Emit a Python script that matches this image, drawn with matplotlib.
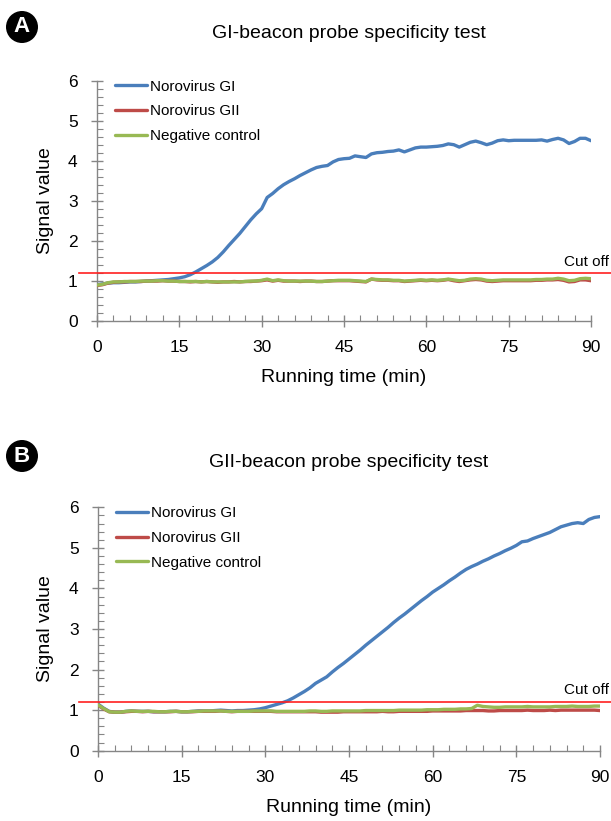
import matplotlib.pyplot as plt
import matplotlib.patches as mpatches
from matplotlib.ticker import MultipleLocator

plt.rcParams["font.family"] = ["Liberation Sans", "DejaVu Sans"]

# ── 데이터 (1분 간격, 0~90분) ──────────────────────────────────────────
time_min = list(range(0, 91))

a_gi = [0.90, 0.92, 0.94, 0.95, 0.95, 0.96, 0.97, 0.97, 0.98, 0.99,
        1.00, 1.01, 1.02, 1.03, 1.05, 1.07, 1.10, 1.15, 1.22, 1.30,
        1.38, 1.47, 1.58, 1.72, 1.88, 2.03, 2.18, 2.35, 2.52, 2.67,
        2.80, 3.08, 3.18, 3.30, 3.40, 3.48, 3.55, 3.63, 3.70, 3.77,
        3.83, 3.86, 3.88, 3.97, 4.03, 4.05, 4.06, 4.12, 4.10, 4.08,
        4.17, 4.20, 4.21, 4.23, 4.24, 4.27, 4.22, 4.27, 4.32, 4.34,
        4.34, 4.35, 4.36, 4.38, 4.42, 4.40, 4.34, 4.40, 4.46, 4.49,
        4.45, 4.40, 4.44, 4.50, 4.52, 4.50, 4.51, 4.51, 4.51, 4.51,
        4.51, 4.52, 4.49, 4.53, 4.56, 4.52, 4.43, 4.48, 4.56, 4.56,
        4.50]
a_gii = [0.88, 0.90, 0.94, 0.96, 0.97, 0.97, 0.98, 0.98, 0.98, 0.99,
         0.99, 0.99, 1.00, 0.99, 0.99, 0.98, 0.98, 0.97, 0.98, 0.97,
         0.98, 0.97, 0.96, 0.97, 0.97, 0.98, 0.97, 0.98, 0.98, 0.99,
         1.00, 1.02, 0.99, 1.01, 0.99, 0.99, 0.99, 0.98, 0.99, 0.99,
         0.98, 0.98, 0.99, 1.00, 1.00, 1.00, 1.00, 0.99, 0.98, 0.97,
         1.04, 1.02, 1.01, 1.01, 1.00, 1.00, 0.98, 0.99, 1.00, 1.01,
         1.00, 1.01, 1.00, 1.01, 1.03, 1.00, 0.98, 1.00, 1.02, 1.03,
         1.02, 0.99, 0.98, 0.99, 1.00, 1.00, 1.00, 1.00, 1.00, 1.00,
         1.01, 1.01, 1.02, 1.02, 1.03, 1.01, 0.97, 0.98, 1.02, 1.02,
         1.00]
a_neg = [0.89, 0.91, 0.95, 0.97, 0.97, 0.98, 0.98, 0.98, 0.99, 0.99,
         0.99, 1.00, 1.00, 0.99, 0.99, 0.98, 0.98, 0.98, 0.98, 0.97,
         0.98, 0.97, 0.97, 0.97, 0.97, 0.97, 0.97, 0.98, 0.99, 0.99,
         1.01, 1.04, 1.00, 1.02, 1.00, 0.99, 0.99, 0.99, 0.99, 0.99,
         0.98, 0.98, 0.99, 1.00, 1.01, 1.01, 1.01, 1.00, 0.99, 0.98,
         1.04, 1.03, 1.02, 1.02, 1.01, 1.01, 0.99, 1.00, 1.01, 1.02,
         1.01, 1.02, 1.01, 1.02, 1.04, 1.02, 1.00, 1.01, 1.04, 1.05,
         1.04, 1.01, 1.00, 1.01, 1.02, 1.02, 1.02, 1.02, 1.02, 1.02,
         1.03, 1.03, 1.04, 1.04, 1.06, 1.04, 1.00, 1.01, 1.05, 1.06,
         1.05]

b_gi = [1.15, 1.05, 0.97, 0.95, 0.95, 0.97, 0.98, 0.97, 0.97, 0.97,
        0.96, 0.96, 0.96, 0.97, 0.97, 0.96, 0.96, 0.97, 0.98, 0.98,
        0.98, 0.99, 1.00, 0.99, 0.98, 0.99, 0.99, 1.00, 1.01, 1.03,
        1.06, 1.10, 1.14, 1.18, 1.23, 1.30, 1.38, 1.46, 1.55, 1.66,
        1.74, 1.82, 1.94, 2.05, 2.15, 2.26, 2.37, 2.48, 2.60, 2.71,
        2.82, 2.93, 3.04, 3.16, 3.27, 3.37, 3.48, 3.59, 3.70, 3.80,
        3.91, 4.00, 4.09, 4.19, 4.28, 4.38, 4.47, 4.54, 4.60, 4.67,
        4.73, 4.80, 4.86, 4.93, 4.99, 5.06, 5.15, 5.17, 5.23, 5.28,
        5.33, 5.38, 5.45, 5.52, 5.56, 5.60, 5.62, 5.60, 5.70, 5.75,
        5.77]
b_gii = [1.12, 1.03, 0.96, 0.95, 0.95, 0.96, 0.97, 0.97, 0.96, 0.97,
         0.96, 0.96, 0.96, 0.96, 0.97, 0.96, 0.96, 0.96, 0.97, 0.97,
         0.97, 0.97, 0.98, 0.97, 0.96, 0.97, 0.97, 0.97, 0.97, 0.97,
         0.97, 0.97, 0.96, 0.96, 0.96, 0.96, 0.96, 0.96, 0.96, 0.96,
         0.95, 0.95, 0.95, 0.95, 0.96, 0.96, 0.96, 0.96, 0.96, 0.96,
         0.96, 0.97, 0.96, 0.96, 0.97, 0.97, 0.97, 0.97, 0.97, 0.97,
         0.98, 0.98, 0.98, 0.98, 0.98, 0.98, 0.99, 0.99, 0.99, 0.99,
         0.98, 0.98, 0.99, 0.99, 0.99, 0.99, 0.99, 1.00, 0.99, 0.99,
         0.99, 1.00, 0.99, 1.00, 1.00, 1.00, 1.00, 1.00, 1.00, 1.00,
         0.99]
b_neg = [1.13, 1.04, 0.96, 0.95, 0.95, 0.97, 0.98, 0.97, 0.97, 0.97,
         0.97, 0.96, 0.96, 0.97, 0.97, 0.96, 0.96, 0.97, 0.97, 0.98,
         0.98, 0.98, 0.98, 0.97, 0.97, 0.97, 0.97, 0.97, 0.98, 0.98,
         0.98, 0.98, 0.97, 0.97, 0.97, 0.97, 0.97, 0.97, 0.98, 0.98,
         0.97, 0.97, 0.98, 0.98, 0.98, 0.98, 0.98, 0.98, 0.99, 0.99,
         0.99, 0.99, 0.99, 0.99, 1.00, 1.00, 1.00, 1.00, 1.00, 1.01,
         1.01, 1.01, 1.02, 1.02, 1.02, 1.03, 1.03, 1.04, 1.12, 1.09,
         1.08, 1.07, 1.07, 1.08, 1.08, 1.08, 1.08, 1.09, 1.08, 1.08,
         1.08, 1.08, 1.09, 1.09, 1.09, 1.10, 1.09, 1.09, 1.09, 1.10,
         1.10]

cutoff = 1.2
series_labels = ["Norovirus GI", "Norovirus GII", "Negative control"]
series_colors = ["#4a7ebb", "#be4b48", "#98b954"]
x_ticks = [0, 15, 30, 45, 60, 75, 90]
y_ticks = [0, 1, 2, 3, 4, 5, 6]

W, H = 611, 821
fig = plt.figure(figsize=(W / 100, H / 100), dpi=100)
fig.patch.set_facecolor("white")


def px(x0, y0, x1, y1):
    # 픽셀 좌표 → figure 비율
    return [x0 / W, 1 - y1 / H, (x1 - x0) / W, (y1 - y0) / H]


panels = [
    ("A", "GI-beacon probe specificity test", [a_gi, a_gii, a_neg],
     px(97, 80.7, 591, 320.7), 27, 33, 262),
    ("B", "GII-beacon probe specificity test", [b_gi, b_gii, b_neg],
     px(98, 507.3, 600, 750.7), 456, 462, 690),
]

for letter, title, data, rect, cy, ty, cut_y in panels:
    ax = fig.add_axes(rect)
    for vals, lab, col in zip(data, series_labels, series_colors):
        ax.plot(time_min, vals, color=col, lw=2.4, label=lab, zorder=3,
                solid_capstyle="round")

    ax.set_xlim(0, 90)
    ax.set_ylim(0, 6)
    ax.set_xticks(x_ticks)
    ax.set_yticks(y_ticks)
    ax.xaxis.set_minor_locator(MultipleLocator(3))
    ax.yaxis.set_minor_locator(MultipleLocator(0.2))
    for s in ["top", "right"]:
        ax.spines[s].set_visible(False)
    for s in ["left", "bottom"]:
        ax.spines[s].set_color("#868686")
        ax.spines[s].set_linewidth(1.0)
    ax.tick_params(which="major", direction="inout", length=8, width=1.0,
                   color="#868686", labelsize=12.5)
    ax.tick_params(axis="x", which="major", pad=10)
    ax.tick_params(axis="y", which="major", pad=10)
    ax.tick_params(which="minor", direction="in", length=4, width=0.8,
                   color="#868686")

    # 컷오프 선 (축 밖까지 연장)
    x0, w = rect[0] * W, rect[2] * W
    h = rect[3] * H
    ax.axhline(cutoff, xmin=(79 - x0) / w, xmax=(W - x0) / w,
               color="#ff2020", lw=1.2, clip_on=False, zorder=4)
    fig.text(609 / W, 1 - cut_y / H, "Cut off", ha="right", va="center",
             fontsize=11)

    ax.set_xlabel("Running time (min)", fontsize=14)
    ax.set_ylabel("Signal value", fontsize=14)
    ax.xaxis.set_label_coords(0.5, -48 / h)
    ax.yaxis.set_label_coords((54 - x0) / w, 0.5)

    ax.legend(loc="upper left", bbox_to_anchor=(18 / w, 1 + 1 / h),
              frameon=False, fontsize=11, handlelength=2.1,
              handletextpad=0.2, labelspacing=0.70, borderpad=0,
              borderaxespad=0)

    fig.text(349 / W, 1 - ty / H, title, ha="center", va="center",
             fontsize=14)

    # 패널 문자 (검은 원)
    fig.patches.append(mpatches.Ellipse((22 / W, 1 - cy / H), 32 / W, 32 / H,
                                        transform=fig.transFigure,
                                        facecolor="black", edgecolor="none"))
    fig.text(22 / W, 1 - cy / H, letter, ha="center", va="center",
             color="white", fontsize=16, fontweight="bold")

fig.savefig("out.png", dpi=100)
